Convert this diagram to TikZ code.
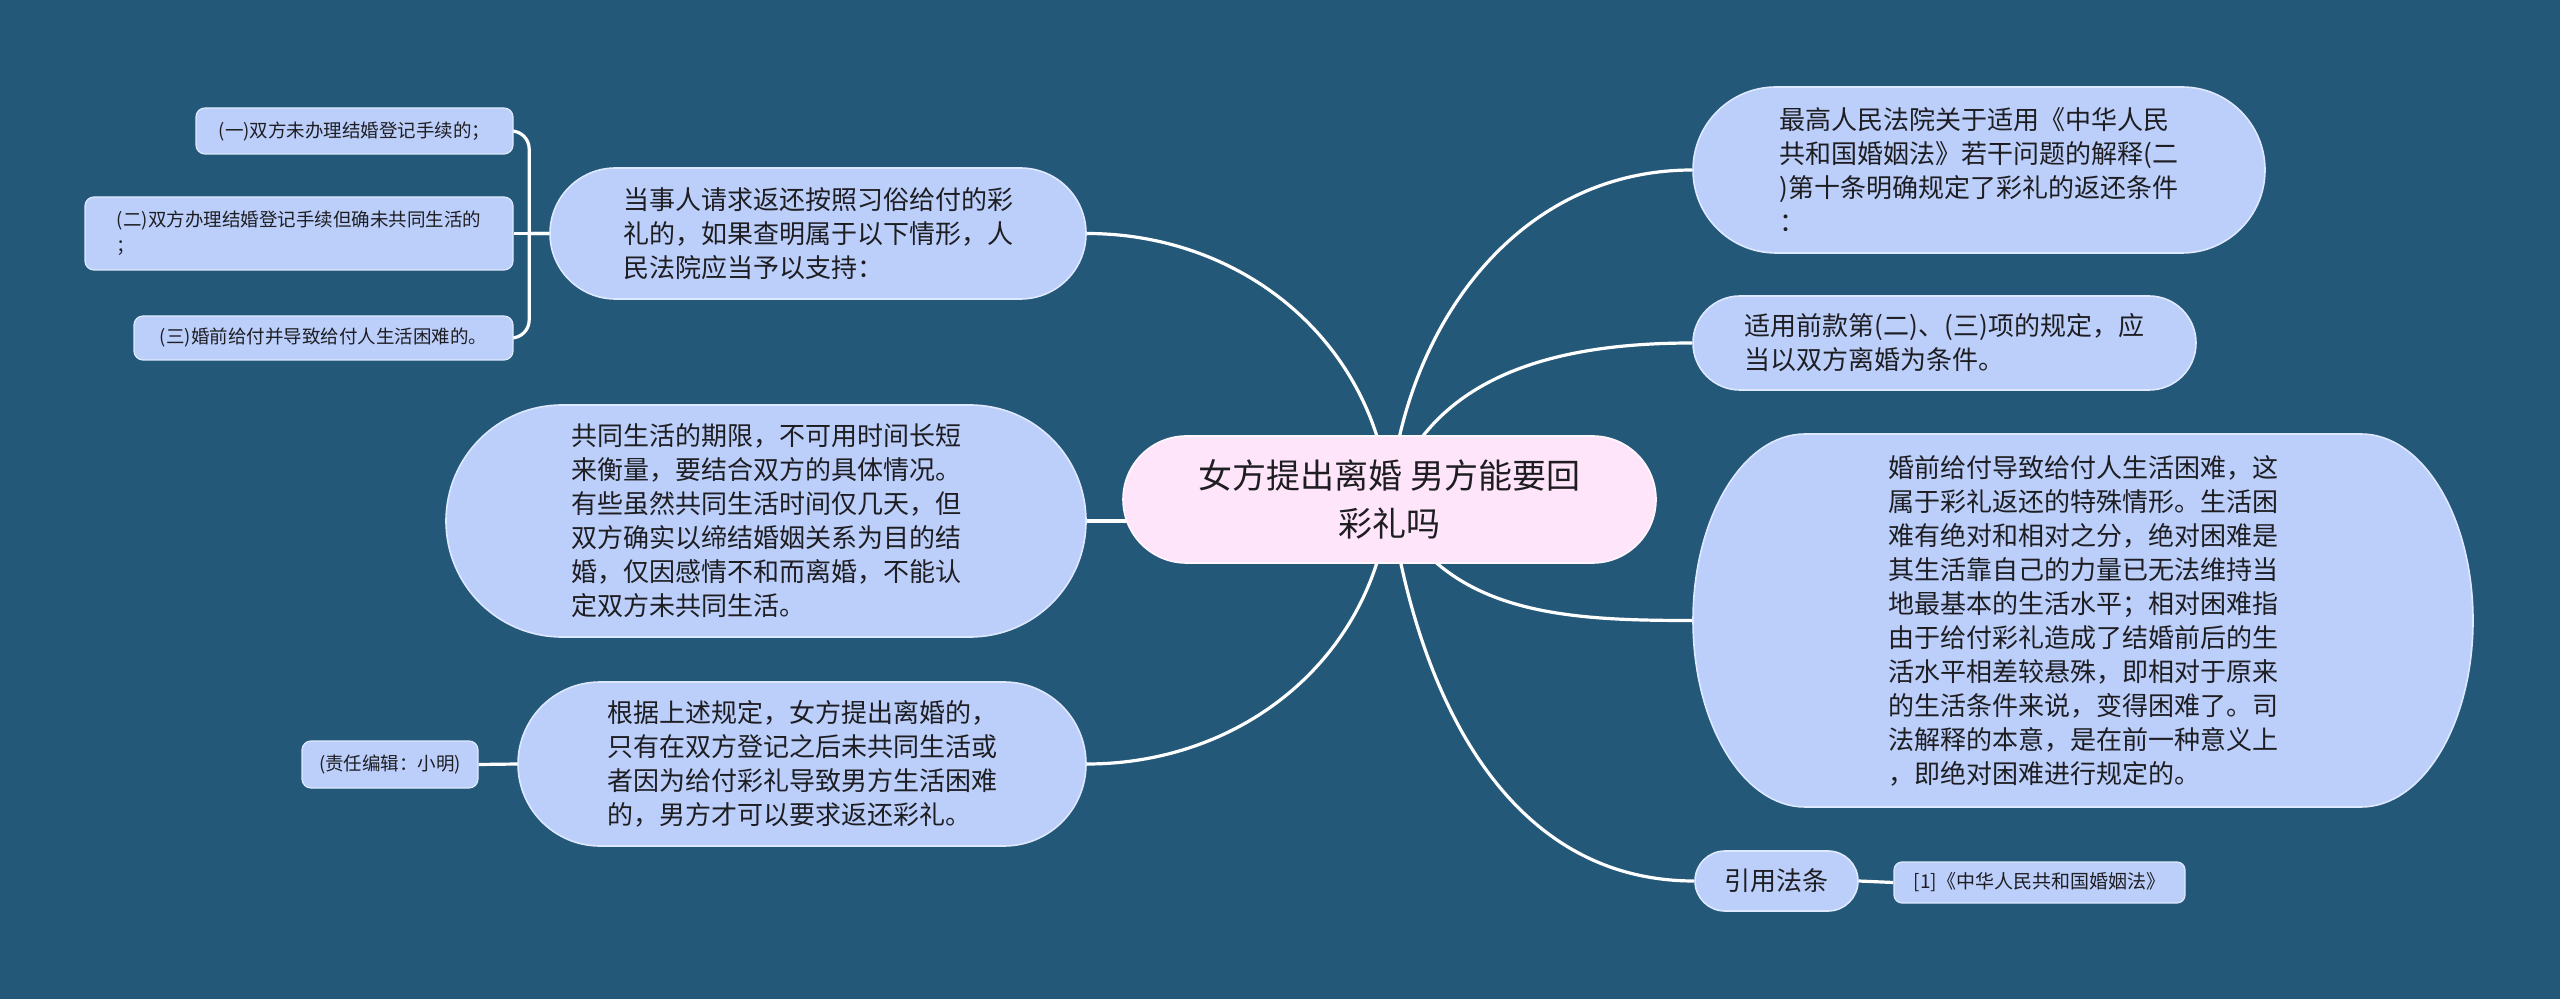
\documentclass[tikz,border=0pt]{standalone}
\usepackage{fontspec}
\setmainfont{Noto Sans CJK SC}
\usetikzlibrary{calc}
\definecolor{bgc}{RGB}{36,88,121}
\definecolor{nfill}{RGB}{188,207,251}
\definecolor{nborder}{RGB}{222,232,255}
\definecolor{cfill}{RGB}{255,229,250}
\definecolor{cborder}{RGB}{255,245,253}
\definecolor{txt}{RGB}{30,30,34}
\pgfdeclarelayer{bgl}
\pgfdeclarelayer{edges}
\pgfdeclarelayer{shapes}
\pgfsetlayers{bgl,edges,shapes,main}
\tikzset{
  topic/.style={rectangle, fill=nfill, draw=nborder, line width=0.8pt, align=left,
    inner sep=0pt, text=txt, font=\fontsize{13pt}{17pt}\selectfont},
  leaf/.style={rectangle, rounded corners=4.5pt, fill=nfill, draw=nborder, line width=0.6pt,
    align=left, inner sep=0pt, text=txt, font=\fontsize{9.25pt}{13pt}\selectfont},
  root/.style={rectangle, fill=cfill, draw=cborder, line width=0.8pt, align=center,
    inner sep=0pt, text=txt, font=\fontsize{17pt}{24pt}\selectfont},
  conn/.style={draw=white, line width=1.6pt},
}
\begin{document}
\begin{tikzpicture}[x=0.5pt,y=-0.5pt]
\useasboundingbox (0,0) rectangle (2560,999);
\begin{pgfonlayer}{bgl}
  \fill[bgc] (0,0) rectangle (2560,999);
\end{pgfonlayer}

% root
\node[root, minimum width=266.5pt, minimum height=63.5pt, rounded corners=31.75pt] (c) at (1389.5,499.5)
  {女方提出离婚 男方能要回\\彩礼吗};

% left side
\node[topic, minimum width=268pt, minimum height=65.5pt, rounded corners=32.75pt] (L1) at (818,233.5)
  {当事人请求返还按照习俗给付的彩\\礼的，如果查明属于以下情形，人\\民法院应当予以支持：};
\node[leaf, minimum width=158.5pt, minimum height=23pt] (L1a) at (354.5,131)
  {(一)双方未办理结婚登记手续的；};
\node[leaf, minimum width=214pt, minimum height=36.5pt] (L1b) at (299,233.5)
  {(二)双方办理结婚登记手续但确未共同生活的\\；};
\node[leaf, minimum width=189.5pt, minimum height=22pt] (L1c) at (323.5,338)
  {(三)婚前给付并导致给付人生活困难的。};
\node[topic, minimum width=320pt, minimum height=116pt, rounded corners=58pt] (L2) at (766,521)
  {共同生活的期限，不可用时间长短\\来衡量，要结合双方的具体情况。\\有些虽然共同生活时间仅几天，但\\双方确实以缔结婚姻关系为目的结\\婚，仅因感情不和而离婚，不能认\\定双方未共同生活。};
\node[topic, minimum width=284pt, minimum height=82pt, rounded corners=41pt] (L3) at (802,764)
  {根据上述规定，女方提出离婚的，\\只有在双方登记之后未共同生活或\\者因为给付彩礼导致男方生活困难\\的，男方才可以要求返还彩礼。};
\node[leaf, minimum width=88pt, minimum height=23.5pt] (L3a) at (390,764.5)
  {(责任编辑：小明)};

% right side
\node[topic, minimum width=286pt, minimum height=83pt, rounded corners=41.5pt] (R1) at (1979,170)
  {最高人民法院关于适用《中华人民\\共和国婚姻法》若干问题的解释(二\\)第十条明确规定了彩礼的返还条件\\：};
\node[topic, minimum width=251.5pt, minimum height=47pt, rounded corners=23.5pt] (R2) at (1944.5,343)
  {适用前款第(二)、(三)项的规定，应\\当以双方离婚为条件。};
\node[topic, fill=none, draw=none, outer sep=0pt, minimum width=390pt, minimum height=186.5pt] (R3) at (2083,620.5)
  {婚前给付导致给付人生活困难，这\\属于彩礼返还的特殊情形。生活困\\难有绝对和相对之分，绝对困难是\\其生活靠自己的力量已无法维持当\\地最基本的生活水平；相对困难指\\由于给付彩礼造成了结婚前后的生\\活水平相差较悬殊，即相对于原来\\的生活条件来说，变得困难了。司\\法解释的本意，是在前一种意义上\\，即绝对困难进行规定的。};
\begin{pgfonlayer}{shapes}
  \filldraw[fill=nfill, draw=nborder, line width=0.8pt, line join=round]
    ($(R3.north west)+(56pt,0)$) -- ($(R3.north east)+(-56pt,0)$)
    arc[start angle=90, end angle=-90, x radius=56pt, y radius=93.25pt]
    -- ($(R3.south west)+(56pt,0)$)
    arc[start angle=270, end angle=90, x radius=56pt, y radius=93.25pt] -- cycle;
\end{pgfonlayer}
\node[topic, minimum width=81.5pt, minimum height=30pt, rounded corners=15pt] (R4) at (1776.5,881)
  {引用法条};
\node[leaf, minimum width=145.5pt, minimum height=20.5pt, rounded corners=4pt,
  font=\fontsize{9.5pt}{13pt}\selectfont] (R4a) at (2039.5,882.5)
  {[1]《中华人民共和国婚姻法》};

% connectors
\begin{pgfonlayer}{edges}
  \draw[conn] (c.center) to[out=95, in=0] (L1.east);
  \draw[conn] (L2.east) -- (L2.east -| c.center);
  \draw[conn] (c.center) to[out=-95, in=0] (L3.east);
  \draw[conn] (c.center) to[out=85, in=180] (R1.west);
  \draw[conn] (c.center) to[out=72, in=180] (R2.west);
  \draw[conn] (c.center) to[out=-65, in=180] (R3.west);
  \draw[conn] (c.center) to[out=-82, in=180] (R4.west);
  \draw[conn] (L1.west) -- (L1b.east);
  \draw[conn] (L1.west) -- ++(-20,0) [rounded corners=9pt] |- (L1a.east);
  \draw[conn] (L1.west) -- ++(-20,0) [rounded corners=9pt] |- (L1c.east);
  \draw[conn] (L3a.east) -- (L3.west);
  \draw[conn] (R4.east) -- (R4a.west);
\end{pgfonlayer}
\end{tikzpicture}
\end{document}
